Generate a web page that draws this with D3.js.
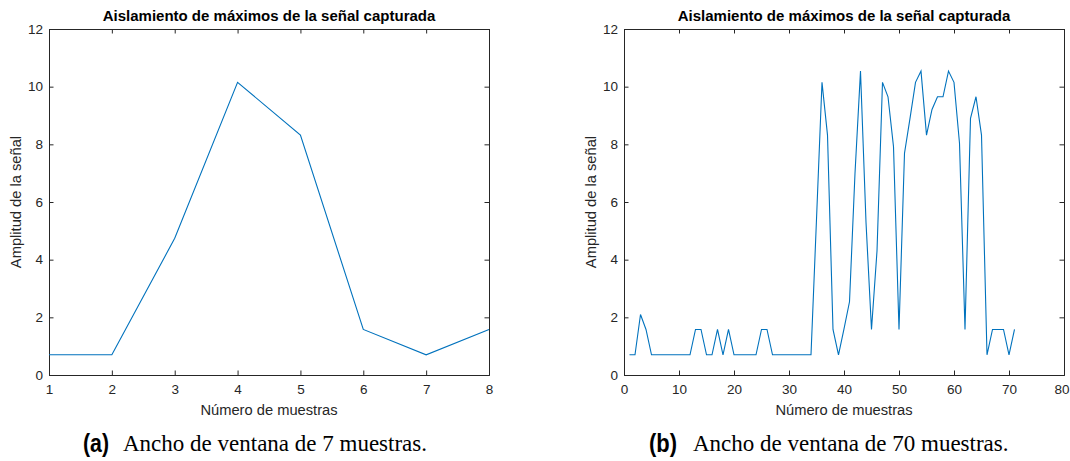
<!DOCTYPE html>
<html>
<head>
<meta charset="utf-8">
<script src="https://cdn.jsdelivr.net/npm/d3@7"></script>
<style>
  html, body { margin: 0; padding: 0; background: #fff; }
  svg { display: block; }
</style>
</head>
<body>
<svg id="fig" width="1070" height="461"></svg>
<script>
// Peak-isolated amplitude, 7-sample window
const windowSmallValues = [0.7, 0.7, 4.74, 10.15, 8.32, 1.58, 0.7, 1.58];

// Peak-isolated amplitude, 70-sample window (samples 1..71)
const windowLargeValues = [
  0.7, 0.7, 2.1, 1.58, 0.7, 0.7, 0.7, 0.7, 0.7, 0.7,
  0.7, 0.7, 1.58, 1.58, 0.7, 0.7, 1.58, 0.7, 1.58, 0.7,
  0.7, 0.7, 0.7, 0.7, 1.58, 1.58, 0.7, 0.7, 0.7, 0.7,
  0.7, 0.7, 0.7, 0.7, 5.4, 10.15, 8.32, 1.58, 0.7, 1.6,
  2.54, 7.0, 10.54, 5.3, 1.58, 4.3, 10.15, 9.65, 7.92, 1.58,
  7.69, 8.9, 10.15, 10.54, 8.32, 9.21, 9.65, 9.65, 10.54, 10.15,
  8.04, 1.58, 8.9, 9.65, 8.32, 0.7, 1.58, 1.58, 1.58, 0.7,
  1.58
];

const xTicksSmall = [1, 2, 3, 4, 5, 6, 7, 8];
const xTicksLarge = [0, 10, 20, 30, 40, 50, 60, 70, 80];
const yTicks = [0, 2, 4, 6, 8, 10, 12];

const titleText = "Aislamiento de máximos de la señal capturada";
const xLabelText = "Número de muestras";
const yLabelText = "Amplitud de la señal";
const captionTags = ["(a)", "(b)"];
const captionTexts = ["Ancho de ventana de 7 muestras.", "Ancho de ventana de 70 muestras."];

const AXIS_COLOR = "#262626";
const LINE_COLOR = "#0072BD";
const SANS = "'Liberation Sans', Arial, Helvetica, sans-serif";
const SERIF = "'Liberation Serif', 'Times New Roman', Times, serif";
const FIG_W = 1070;

const svg = d3.select("#fig");
svg.append("rect").attr("width", FIG_W).attr("height", 461).attr("fill", "#fff");

const panels = [
  { left: 49,  right: 489,  top: 29, bottom: 375, xDomain: [1, 8],  xTicks: xTicksSmall, values: windowSmallValues,
    tagX: 83, tagW: 26, textX: 123 },
  { left: 624, right: 1064, top: 29, bottom: 375, xDomain: [0, 80], xTicks: xTicksLarge, values: windowLargeValues,
    tagX: 649, tagW: 28, textX: 693 }
];

panels.forEach((p, idx) => {
  const x = d3.scaleLinear().domain(p.xDomain).range([p.left, p.right]);
  const y = d3.scaleLinear().domain([0, 12]).range([p.bottom, p.top]);
  const g = svg.append("g");
  const tickLen = 4.5;

  // Bottom axis with inward ticks
  const bottom = g.append("g")
    .attr("transform", `translate(0,${p.bottom})`)
    .call(d3.axisBottom(x).tickValues(p.xTicks).tickSize(-tickLen).tickPadding(10).tickFormat(d3.format("d")));
  // Top mirror ticks
  const top = g.append("g")
    .attr("transform", `translate(0,${p.top})`)
    .call(d3.axisTop(x).tickValues(p.xTicks).tickSize(-tickLen).tickFormat(""));
  // Left axis with inward ticks
  const leftAx = g.append("g")
    .attr("transform", `translate(${p.left},0)`)
    .call(d3.axisLeft(y).tickValues(yTicks).tickSize(-tickLen).tickPadding(6).tickFormat(d3.format("d")));
  // Right mirror ticks
  const rightAx = g.append("g")
    .attr("transform", `translate(${p.right},0)`)
    .call(d3.axisRight(y).tickValues(yTicks).tickSize(-tickLen).tickFormat(""));

  [bottom, top, leftAx, rightAx].forEach(a => {
    a.select(".domain").attr("stroke", AXIS_COLOR).attr("stroke-width", 1);
    a.selectAll(".tick line").attr("stroke", AXIS_COLOR).attr("stroke-width", 1);
    a.selectAll(".tick text")
      .attr("fill", AXIS_COLOR)
      .style("font-family", SANS)
      .style("font-size", "13.5px");
  });
  // x tick labels: sit a little below the axis; keep the last one inside the figure
  bottom.selectAll(".tick text").attr("dy", "0.71em").attr("y", 9)
    .attr("x", function () {
      const bb = this.getBBox();
      const tx = +this.parentNode.getAttribute("transform").match(/translate\(([-\d.]+)/)[1];
      const overflow = tx + bb.x + bb.width - (FIG_W - 0.5);
      return overflow > 0 ? -overflow : 0;
    });

  // Data line
  const line = d3.line()
    .x((d, i) => x(i + 1))
    .y(d => y(d));
  g.append("path")
    .datum(p.values)
    .attr("fill", "none")
    .attr("stroke", LINE_COLOR)
    .attr("stroke-width", 1.1)
    .attr("stroke-linejoin", "miter")
    .attr("d", line);

  const cx = (p.left + p.right) / 2;

  // Title
  g.append("text")
    .attr("x", cx).attr("y", 21)
    .attr("text-anchor", "middle")
    .attr("fill", "#000")
    .style("font-family", SANS)
    .style("font-weight", "bold")
    .style("font-size", "15px")
    .text(titleText);

  // X label
  g.append("text")
    .attr("x", cx).attr("y", 415)
    .attr("text-anchor", "middle")
    .attr("fill", AXIS_COLOR)
    .style("font-family", SANS)
    .style("font-size", "14.7px")
    .text(xLabelText);

  // Y label
  g.append("text")
    .attr("transform", `translate(${p.left - 28},${(p.top + p.bottom) / 2}) rotate(-90)`)
    .attr("text-anchor", "middle")
    .attr("fill", AXIS_COLOR)
    .style("font-family", SANS)
    .style("font-size", "14.7px")
    .text(yLabelText);

  // Sub-caption
  g.append("text")
    .attr("x", p.tagX).attr("y", 452)
    .attr("textLength", p.tagW)
    .attr("lengthAdjust", "spacingAndGlyphs")
    .attr("fill", "#000")
    .style("font-family", SANS)
    .style("font-weight", "bold")
    .style("font-size", "25px")
    .text(captionTags[idx]);
  g.append("text")
    .attr("x", p.textX).attr("y", 451)
    .attr("fill", "#000")
    .style("font-family", SERIF)
    .style("font-size", "23px")
    .text(captionTexts[idx]);
});
</script>
</body>
</html>
